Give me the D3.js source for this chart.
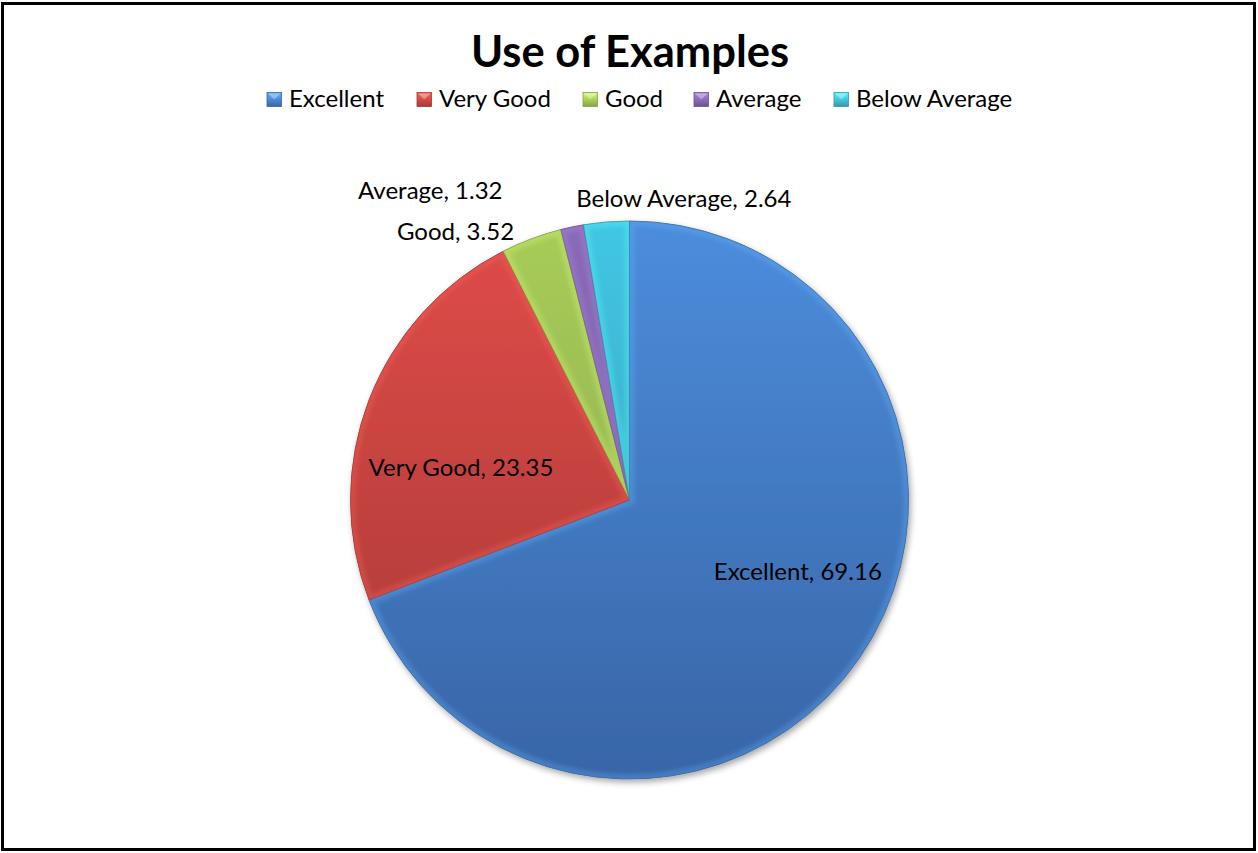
<!DOCTYPE html>
<html>
<head>
<meta charset="utf-8">
<script src="https://cdn.jsdelivr.net/npm/d3@7"></script>
<style>
  body { margin: 0; background: #fff; }
  svg { display: block; }
  text { font-family: Lato, "Open Sans", sans-serif; fill: #000; }
</style>
</head>
<body>
<svg id="chart"></svg>
<script>
var categories = ["Excellent", "Very Good", "Good", "Average", "Below Average"]
var values = [69.16, 23.35, 3.52, 1.32, 2.64]
var colorsTop = ["#4c8ddc", "#e04c49", "#a8cc5a", "#8a6bb8", "#42c6e4"]
var colorsBottom = ["#3865a6", "#a53835", "#86a445", "#6a5290", "#3497b0"]

var width = 1258, height = 853
var cx = 629.5, cy = 500, radius = 279

var svg = d3.select("#chart").attr("width", width).attr("height", height)
var defs = svg.append("defs")

// outer frame
svg.append("rect")
  .attr("x", 2.5).attr("y", 3.5)
  .attr("width", 1252).attr("height", 846)
  .attr("fill", "#fff")
  .attr("stroke", "#000")
  .attr("stroke-width", 3)

svg.append("text")
  .attr("x", 630).attr("y", 67)
  .attr("text-anchor", "middle")
  .attr("font-size", 43.5)
  .attr("font-weight", "bold")
  .text("Use of Examples")

// gradients (pie ones are in the pie group's user space)
categories.forEach((c, i) => {
  var g = defs.append("linearGradient")
    .attr("id", `grad${i}`)
    .attr("gradientUnits", "userSpaceOnUse")
    .attr("x1", 0).attr("y1", -radius)
    .attr("x2", 0).attr("y2", radius)
  g.append("stop").attr("offset", "0%").attr("stop-color", colorsTop[i])
  g.append("stop").attr("offset", "100%").attr("stop-color", colorsBottom[i])

  var lg = defs.append("linearGradient")
    .attr("id", `lgrad${i}`)
    .attr("x1", 0).attr("y1", 0).attr("x2", 0).attr("y2", 1)
  lg.append("stop").attr("offset", "0%").attr("stop-color", d3.color(colorsTop[i]).brighter(0.6))
  lg.append("stop").attr("offset", "100%").attr("stop-color", colorsBottom[i])
})

// legend
var legendX = d3.scaleOrdinal()
  .domain(categories)
  .range([267, 417, 583, 694, 834])

var legend = svg.append("g").attr("class", "legend")
categories.forEach((c, i) => {
  var item = legend.append("g").attr("transform", `translate(${legendX(c)},92.5)`)
  item.append("rect")
    .attr("width", 14.5).attr("height", 14)
    .attr("fill", `url(#lgrad${i})`)
    .attr("stroke", colorsBottom[i]).attr("stroke-width", 0.8)
  item.append("path")
    .attr("d", "M1,1 L7.25,7 L13.5,1 Z")
    .attr("fill", "#fff").attr("opacity", 0.35)
  item.append("text")
    .attr("x", 22).attr("y", 14)
    .attr("font-size", 24)
    .text(c)
})

// pie
var pie = d3.pie().sort(null).value(d => d)
var arc = d3.arc().innerRadius(0).outerRadius(radius)
var arcs = pie(values)

var pieG = svg.append("g").attr("transform", `translate(${cx},${cy})`)

defs.append("filter").attr("id", "shadow")
  .attr("x", "-10%").attr("y", "-10%").attr("width", "120%").attr("height", "120%")
  .append("feDropShadow")
  .attr("dx", 2).attr("dy", 3).attr("stdDeviation", 3)
  .attr("flood-color", "#000").attr("flood-opacity", 0.35)

defs.append("filter").attr("id", "soft")
  .append("feGaussianBlur").attr("stdDeviation", 2)

var slices = pieG.append("g").attr("filter", "url(#shadow)")

arcs.forEach((d, i) => {
  defs.append("clipPath").attr("id", `clip${i}`)
    .append("path")
    .attr("d", arc(d))
})

slices.selectAll("path.slice")
  .data(arcs)
  .join("path")
  .attr("class", "slice")
  .attr("d", arc)
  .attr("fill", (d, i) => `url(#grad${i})`)
  .attr("stroke", (d, i) => d3.color(colorsBottom[i]).darker(0.6))
  .attr("stroke-width", 0.8)

// soft bevel highlight inside each slice
var bevel = pieG.append("g")
arcs.forEach((d, i) => {
  bevel.append("g")
    .attr("clip-path", `url(#clip${i})`)
    .append("path")
    .attr("d", arc(d))
    .attr("fill", "none")
    .attr("stroke", d3.color(colorsTop[i]).brighter(0.7))
    .attr("stroke-width", 10)
    .attr("stroke-opacity", 0.3)
    .attr("filter", "url(#soft)")
})

// data labels (polar anchors relative to pie centre)
var labelAnchors = [
  {angle: 112.9, r: 0.655},
  {angle: 280.8, r: 0.615},
  {angle: 327.0, r: 1.145},
  {angle: 327.2, r: 1.318},
  {angle: 10.2, r: 1.098}
]

arcs.forEach((d, i) => {
  var a = labelAnchors[i].angle * Math.PI / 180
  var rr = labelAnchors[i].r * radius
  pieG.append("text")
    .attr("x", rr * Math.sin(a))
    .attr("y", -rr * Math.cos(a))
    .attr("dy", "0.35em")
    .attr("text-anchor", "middle")
    .attr("font-size", 24)
    .text(`${categories[i]}, ${values[i].toFixed(2)}`)
})
</script>
</body>
</html>
